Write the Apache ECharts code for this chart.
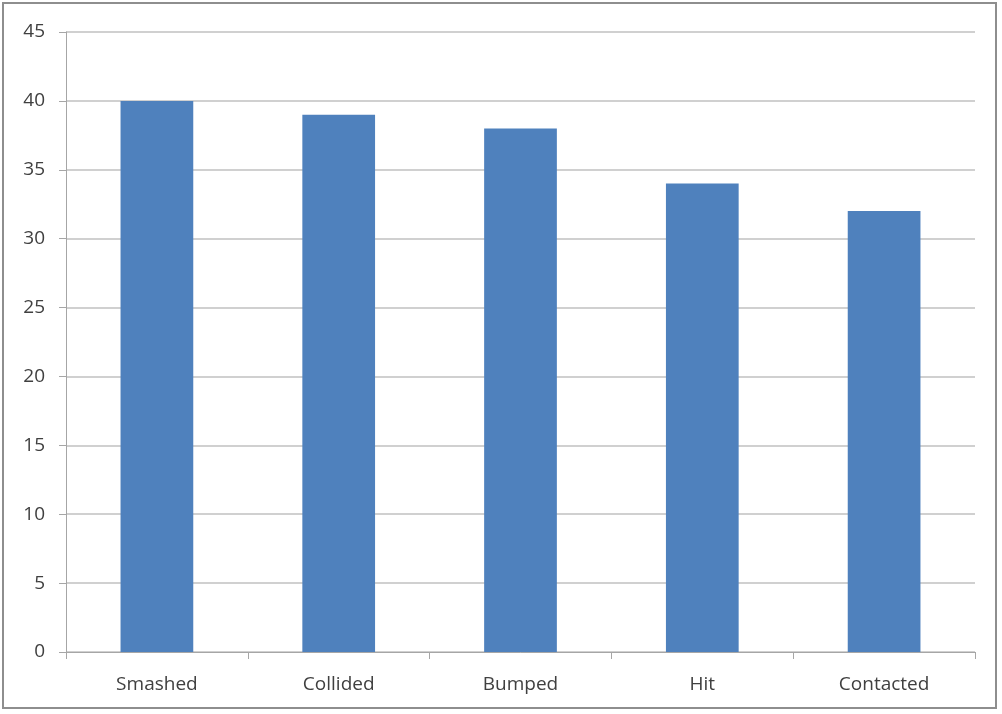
<!DOCTYPE html>
<html><head><meta charset="utf-8">
<script src="https://cdn.jsdelivr.net/npm/echarts@6/dist/echarts.min.js"></script>
<style>
html,body{margin:0;padding:0;background:#fff;}
#frame{position:absolute;left:2px;top:2px;width:995px;height:707px;border:2px solid #8e8e8e;box-sizing:border-box;}
#c{position:absolute;left:0;top:0;width:1002px;height:714px;}
</style></head>
<body><div id="frame"></div><div id="c"></div>
<script>
var categories = ['Smashed','Collided','Bumped','Hit','Contacted'];
var values = [40, 39, 38, 34, 32];
var chart = echarts.init(document.getElementById('c'), null, {renderer:'canvas'});
chart.setOption({
  animation:false,
  grid:{left:66,right:27,top:32,bottom:62,containLabel:false},
  xAxis:{type:'category',data:categories,
    axisLine:{lineStyle:{color:'#a6a6a6',width:1}},
    axisTick:{show:true,length:7,lineStyle:{color:'#a6a6a6'}},
    axisLabel:{color:'#404040',fontFamily:'Open Sans',fontSize:19,margin:23}},
  yAxis:{type:'value',min:0,max:45,interval:5,
    axisLine:{show:true,lineStyle:{color:'#a6a6a6',width:1}},
    axisTick:{show:true,length:7,lineStyle:{color:'#a6a6a6'}},
    splitLine:{lineStyle:{color:'#c0c0c0',width:1.5}},
    axisLabel:{color:'#404040',fontFamily:'Open Sans',fontSize:19,margin:21}},
  series:[{type:'bar',data:values,barCategoryGap:'60%',
    itemStyle:{color:'#4f81bd'}}]
});
</script></body></html>
